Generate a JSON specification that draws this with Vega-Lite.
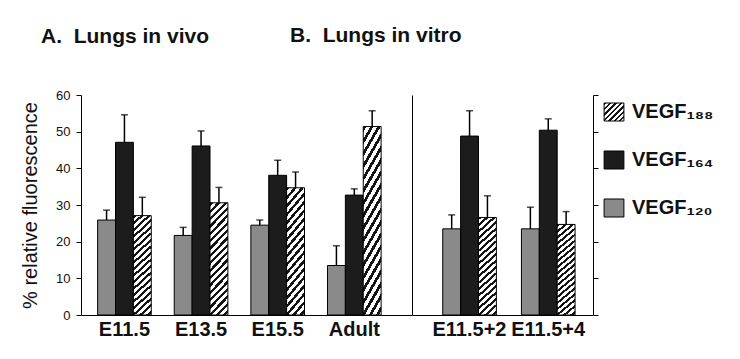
{
  "$schema": "https://vega.github.io/schema/vega-lite/v6.json",
  "padding": {"left": 20, "top": 24, "right": 0, "bottom": 0},
  "bounds": "flush",
  "spacing": 0,
  "config": {
    "view": {"stroke": null},
    "font": "Liberation Sans",
    "axis": {"domainColor": "black", "tickColor": "black", "labelColor": "#111", "titleColor": "#111", "grid": false}
  },
  "datasets": {
    "a": [
      {"stage": "E11.5", "isoform": "120", "value": 25.9, "upper": 28.6},
      {"stage": "E11.5", "isoform": "164", "value": 47.1, "upper": 54.6},
      {"stage": "E11.5", "isoform": "188", "value": 27.1, "upper": 32.1},
      {"stage": "E13.5", "isoform": "120", "value": 21.7, "upper": 23.9},
      {"stage": "E13.5", "isoform": "164", "value": 46.1, "upper": 50.2},
      {"stage": "E13.5", "isoform": "188", "value": 30.6, "upper": 34.8},
      {"stage": "E15.5", "isoform": "120", "value": 24.5, "upper": 25.9},
      {"stage": "E15.5", "isoform": "164", "value": 38.1, "upper": 42.2},
      {"stage": "E15.5", "isoform": "188", "value": 34.7, "upper": 39.0},
      {"stage": "Adult", "isoform": "120", "value": 13.5, "upper": 18.9},
      {"stage": "Adult", "isoform": "164", "value": 32.7, "upper": 34.4},
      {"stage": "Adult", "isoform": "188", "value": 51.4, "upper": 55.7}
    ],
    "b": [
      {"stage": "E11.5+2", "isoform": "120", "value": 23.5, "upper": 27.3},
      {"stage": "E11.5+2", "isoform": "164", "value": 48.8, "upper": 55.7},
      {"stage": "E11.5+2", "isoform": "188", "value": 26.6, "upper": 32.5},
      {"stage": "E11.5+4", "isoform": "120", "value": 23.5, "upper": 29.4},
      {"stage": "E11.5+4", "isoform": "164", "value": 50.4, "upper": 53.5},
      {"stage": "E11.5+4", "isoform": "188", "value": 24.7, "upper": 28.2}
    ]
  },
  "resolve": {"scale": {"x": "independent", "y": "independent", "fill": "shared"}, "legend": {"fill": "shared"}},
  "hconcat": [
    {
      "width": 331,
      "height": 220,
      "data": {"name": "a"},
      "title": {"text": "A.\u00a0 Lungs in vivo", "anchor": "start", "frame": "group", "dx": -40, "offset": 25, "fontSize": 21, "fontWeight": "bold", "font": "Liberation Sans", "baseline": "alphabetic", "color": "#111"},
      "encoding": {
        "x": {"field": "stage", "type": "nominal", "sort": ["E11.5", "E13.5", "E15.5", "Adult"],
              "scale": {"paddingInner": 0.3, "paddingOuter": 0.31, "align": 0.35},
              "axis": {"title": null, "ticks": false, "labelFontSize": 20, "labelFontWeight": "bold", "labelPadding": 4, "labelAngle": 0, "labelColor": "#111"}},
        "xOffset": {"field": "isoform", "type": "nominal", "sort": ["120", "164", "188"]}
      },
      "layer": [
        {
          "mark": {"type": "bar", "stroke": "black", "strokeWidth": 1},
          "encoding": {
            "y": {"field": "value", "type": "quantitative", "scale": {"domain": [0, 60], "nice": false},
                  "axis": {"title": "% relative fluorescence", "titleFontSize": 20, "titleFontWeight": "normal", "titlePadding": 15, "labelFontSize": 13, "tickSize": 5, "labelPadding": 6, "values": [0, 10, 20, 30, 40, 50, 60], "labelOverlap": false}},
            "fill": {
              "field": "isoform", "type": "nominal",
              "scale": {"domain": ["188", "164", "120"], "range": [
                {"expr": "{gradient: 'linear', x1: 0, y1: 0, x2: 1.05, y2: 0.945, stops: [{offset: 0, color: '#151515'}, {offset: 0.0643, color: '#151515'}, {offset: 0.0643, color: '#ffffff'}, {offset: 0.1429, color: '#ffffff'}, {offset: 0.1429, color: '#151515'}, {offset: 0.2072, color: '#151515'}, {offset: 0.2072, color: '#ffffff'}, {offset: 0.2857, color: '#ffffff'}, {offset: 0.2857, color: '#151515'}, {offset: 0.35, color: '#151515'}, {offset: 0.35, color: '#ffffff'}, {offset: 0.4286, color: '#ffffff'}, {offset: 0.4286, color: '#151515'}, {offset: 0.4929, color: '#151515'}, {offset: 0.4929, color: '#ffffff'}, {offset: 0.5714, color: '#ffffff'}, {offset: 0.5714, color: '#151515'}, {offset: 0.6357, color: '#151515'}, {offset: 0.6357, color: '#ffffff'}, {offset: 0.7143, color: '#ffffff'}, {offset: 0.7143, color: '#151515'}, {offset: 0.7786, color: '#151515'}, {offset: 0.7786, color: '#ffffff'}, {offset: 0.8571, color: '#ffffff'}, {offset: 0.8571, color: '#151515'}, {offset: 0.9214, color: '#151515'}, {offset: 0.9214, color: '#ffffff'}, {offset: 1, color: '#ffffff'}]}"},
                "#1c1c1c", "#8a8a8a"]},
              "condition": {"test": "datum.isoform === '188'", "value": {"gradient": "linear", "x1": 0, "y1": 0, "x2": 0.19, "y2": 1.15, "stops": [
                {"offset": 0, "color": "#151515"}, {"offset": 0.025, "color": "#151515"}, {"offset": 0.025, "color": "#ffffff"}, {"offset": 0.0556, "color": "#ffffff"},
                {"offset": 0.0556, "color": "#151515"}, {"offset": 0.0806, "color": "#151515"}, {"offset": 0.0806, "color": "#ffffff"}, {"offset": 0.1111, "color": "#ffffff"},
                {"offset": 0.1111, "color": "#151515"}, {"offset": 0.1361, "color": "#151515"}, {"offset": 0.1361, "color": "#ffffff"}, {"offset": 0.1667, "color": "#ffffff"},
                {"offset": 0.1667, "color": "#151515"}, {"offset": 0.1917, "color": "#151515"}, {"offset": 0.1917, "color": "#ffffff"}, {"offset": 0.2222, "color": "#ffffff"},
                {"offset": 0.2222, "color": "#151515"}, {"offset": 0.2472, "color": "#151515"}, {"offset": 0.2472, "color": "#ffffff"}, {"offset": 0.2778, "color": "#ffffff"},
                {"offset": 0.2778, "color": "#151515"}, {"offset": 0.3028, "color": "#151515"}, {"offset": 0.3028, "color": "#ffffff"}, {"offset": 0.3333, "color": "#ffffff"},
                {"offset": 0.3333, "color": "#151515"}, {"offset": 0.3583, "color": "#151515"}, {"offset": 0.3583, "color": "#ffffff"}, {"offset": 0.3889, "color": "#ffffff"},
                {"offset": 0.3889, "color": "#151515"}, {"offset": 0.4139, "color": "#151515"}, {"offset": 0.4139, "color": "#ffffff"}, {"offset": 0.4444, "color": "#ffffff"},
                {"offset": 0.4444, "color": "#151515"}, {"offset": 0.4694, "color": "#151515"}, {"offset": 0.4694, "color": "#ffffff"}, {"offset": 0.5, "color": "#ffffff"},
                {"offset": 0.5, "color": "#151515"}, {"offset": 0.525, "color": "#151515"}, {"offset": 0.525, "color": "#ffffff"}, {"offset": 0.5556, "color": "#ffffff"},
                {"offset": 0.5556, "color": "#151515"}, {"offset": 0.5806, "color": "#151515"}, {"offset": 0.5806, "color": "#ffffff"}, {"offset": 0.6111, "color": "#ffffff"},
                {"offset": 0.6111, "color": "#151515"}, {"offset": 0.6361, "color": "#151515"}, {"offset": 0.6361, "color": "#ffffff"}, {"offset": 0.6667, "color": "#ffffff"},
                {"offset": 0.6667, "color": "#151515"}, {"offset": 0.6917, "color": "#151515"}, {"offset": 0.6917, "color": "#ffffff"}, {"offset": 0.7222, "color": "#ffffff"},
                {"offset": 0.7222, "color": "#151515"}, {"offset": 0.7472, "color": "#151515"}, {"offset": 0.7472, "color": "#ffffff"}, {"offset": 0.7778, "color": "#ffffff"},
                {"offset": 0.7778, "color": "#151515"}, {"offset": 0.8028, "color": "#151515"}, {"offset": 0.8028, "color": "#ffffff"}, {"offset": 0.8333, "color": "#ffffff"},
                {"offset": 0.8333, "color": "#151515"}, {"offset": 0.8583, "color": "#151515"}, {"offset": 0.8583, "color": "#ffffff"}, {"offset": 0.8889, "color": "#ffffff"},
                {"offset": 0.8889, "color": "#151515"}, {"offset": 0.9139, "color": "#151515"}, {"offset": 0.9139, "color": "#ffffff"}, {"offset": 0.9444, "color": "#ffffff"},
                {"offset": 0.9444, "color": "#151515"}, {"offset": 0.9694, "color": "#151515"}, {"offset": 0.9694, "color": "#ffffff"}, {"offset": 1, "color": "#ffffff"}
              ]}},
              "legend": {
                "title": null, "orient": "right", "offset": -2, "padding": 7,
                "symbolType": "M-1.1,-1H1.1V1H-1.1Z", "symbolSize": 324, "symbolStrokeColor": "black", "symbolStrokeWidth": 1, "symbolOpacity": 1,
                "labelFontSize": 20, "labelFont": "Liberation Sans", "labelFontWeight": "bold", "labelColor": "#111", "labelOffset": 8, "rowPadding": 26,
                "labelExpr": "datum.label === '188' ? 'VEGF\u2081\u2088\u2088' : datum.label === '164' ? 'VEGF\u2081\u2086\u2084' : 'VEGF\u2081\u2082\u2080'"
              }
            }
          }
        },
        {
          "mark": {"type": "rule", "strokeWidth": 1.5, "color": "black"},
          "encoding": {"y": {"field": "value", "type": "quantitative", "scale": {"domain": [0, 60], "nice": false},
                             "axis": {"title": "% relative fluorescence", "titleFontSize": 20, "titleFontWeight": "normal", "titlePadding": 15, "labelFontSize": 13, "tickSize": 5, "labelPadding": 6, "values": [0, 10, 20, 30, 40, 50, 60], "labelOverlap": false}},
                       "y2": {"field": "upper"}}
        },
        {
          "mark": {"type": "tick", "size": 7, "thickness": 1.5, "color": "black"},
          "encoding": {"y": {"field": "upper", "type": "quantitative", "scale": {"domain": [0, 60], "nice": false},
                             "axis": {"title": "% relative fluorescence", "titleFontSize": 20, "titleFontWeight": "normal", "titlePadding": 15, "labelFontSize": 13, "tickSize": 5, "labelPadding": 6, "values": [0, 10, 20, 30, 40, 50, 60], "labelOverlap": false}}}
        }
      ]
    },
    {
      "width": 181,
      "height": 220,
      "data": {"name": "b"},
      "title": {"text": "B.\u00a0 Lungs in vitro", "anchor": "start", "frame": "group", "dx": -122, "offset": 32, "fontSize": 21, "fontWeight": "bold", "font": "Liberation Sans", "baseline": "alphabetic", "color": "#111"},
      "encoding": {
        "x": {"field": "stage", "type": "nominal", "sort": ["E11.5+2", "E11.5+4"],
              "scale": {"paddingInner": 0.32, "paddingOuter": 0.31, "align": 0.63},
              "axis": {"title": null, "ticks": false, "labelFontSize": 20, "labelFontWeight": "bold", "labelPadding": 4, "labelAngle": 0, "labelColor": "#111"}},
        "xOffset": {"field": "isoform", "type": "nominal", "sort": ["120", "164", "188"]}
      },
      "resolve": {"scale": {"y": "independent"}, "axis": {"y": "independent"}},
      "layer": [
        {
          "mark": {"type": "bar", "stroke": "black", "strokeWidth": 1},
          "encoding": {
            "y": {"field": "value", "type": "quantitative", "scale": {"domain": [0, 60], "nice": false},
                  "axis": {"orient": "left", "title": null, "labels": false, "ticks": false, "domain": true}},
            "fill": {
              "field": "isoform", "type": "nominal",
              "condition": {"test": "datum.isoform === '188'", "value": {"gradient": "linear", "x1": 0, "y1": 0, "x2": 0.19, "y2": 1.15, "stops": [
                {"offset": 0, "color": "#151515"}, {"offset": 0.025, "color": "#151515"}, {"offset": 0.025, "color": "#ffffff"}, {"offset": 0.0556, "color": "#ffffff"},
                {"offset": 0.0556, "color": "#151515"}, {"offset": 0.0806, "color": "#151515"}, {"offset": 0.0806, "color": "#ffffff"}, {"offset": 0.1111, "color": "#ffffff"},
                {"offset": 0.1111, "color": "#151515"}, {"offset": 0.1361, "color": "#151515"}, {"offset": 0.1361, "color": "#ffffff"}, {"offset": 0.1667, "color": "#ffffff"},
                {"offset": 0.1667, "color": "#151515"}, {"offset": 0.1917, "color": "#151515"}, {"offset": 0.1917, "color": "#ffffff"}, {"offset": 0.2222, "color": "#ffffff"},
                {"offset": 0.2222, "color": "#151515"}, {"offset": 0.2472, "color": "#151515"}, {"offset": 0.2472, "color": "#ffffff"}, {"offset": 0.2778, "color": "#ffffff"},
                {"offset": 0.2778, "color": "#151515"}, {"offset": 0.3028, "color": "#151515"}, {"offset": 0.3028, "color": "#ffffff"}, {"offset": 0.3333, "color": "#ffffff"},
                {"offset": 0.3333, "color": "#151515"}, {"offset": 0.3583, "color": "#151515"}, {"offset": 0.3583, "color": "#ffffff"}, {"offset": 0.3889, "color": "#ffffff"},
                {"offset": 0.3889, "color": "#151515"}, {"offset": 0.4139, "color": "#151515"}, {"offset": 0.4139, "color": "#ffffff"}, {"offset": 0.4444, "color": "#ffffff"},
                {"offset": 0.4444, "color": "#151515"}, {"offset": 0.4694, "color": "#151515"}, {"offset": 0.4694, "color": "#ffffff"}, {"offset": 0.5, "color": "#ffffff"},
                {"offset": 0.5, "color": "#151515"}, {"offset": 0.525, "color": "#151515"}, {"offset": 0.525, "color": "#ffffff"}, {"offset": 0.5556, "color": "#ffffff"},
                {"offset": 0.5556, "color": "#151515"}, {"offset": 0.5806, "color": "#151515"}, {"offset": 0.5806, "color": "#ffffff"}, {"offset": 0.6111, "color": "#ffffff"},
                {"offset": 0.6111, "color": "#151515"}, {"offset": 0.6361, "color": "#151515"}, {"offset": 0.6361, "color": "#ffffff"}, {"offset": 0.6667, "color": "#ffffff"},
                {"offset": 0.6667, "color": "#151515"}, {"offset": 0.6917, "color": "#151515"}, {"offset": 0.6917, "color": "#ffffff"}, {"offset": 0.7222, "color": "#ffffff"},
                {"offset": 0.7222, "color": "#151515"}, {"offset": 0.7472, "color": "#151515"}, {"offset": 0.7472, "color": "#ffffff"}, {"offset": 0.7778, "color": "#ffffff"},
                {"offset": 0.7778, "color": "#151515"}, {"offset": 0.8028, "color": "#151515"}, {"offset": 0.8028, "color": "#ffffff"}, {"offset": 0.8333, "color": "#ffffff"},
                {"offset": 0.8333, "color": "#151515"}, {"offset": 0.8583, "color": "#151515"}, {"offset": 0.8583, "color": "#ffffff"}, {"offset": 0.8889, "color": "#ffffff"},
                {"offset": 0.8889, "color": "#151515"}, {"offset": 0.9139, "color": "#151515"}, {"offset": 0.9139, "color": "#ffffff"}, {"offset": 0.9444, "color": "#ffffff"},
                {"offset": 0.9444, "color": "#151515"}, {"offset": 0.9694, "color": "#151515"}, {"offset": 0.9694, "color": "#ffffff"}, {"offset": 1, "color": "#ffffff"}
              ]}},
              "legend": null
            }
          }
        },
        {
          "mark": {"type": "rule", "strokeWidth": 1.5, "color": "black"},
          "encoding": {"y": {"field": "value", "type": "quantitative", "scale": {"domain": [0, 60], "nice": false},
                             "axis": {"orient": "right", "title": null, "labels": false, "ticks": true, "tickSize": 5, "values": [0, 10, 20, 30, 40, 50, 60]}},
                       "y2": {"field": "upper"}}
        },
        {
          "mark": {"type": "tick", "size": 7, "thickness": 1.5, "color": "black"},
          "encoding": {"y": {"field": "upper", "type": "quantitative", "scale": {"domain": [0, 60], "nice": false}, "axis": null}}
        }
      ]
    }
  ]
}
